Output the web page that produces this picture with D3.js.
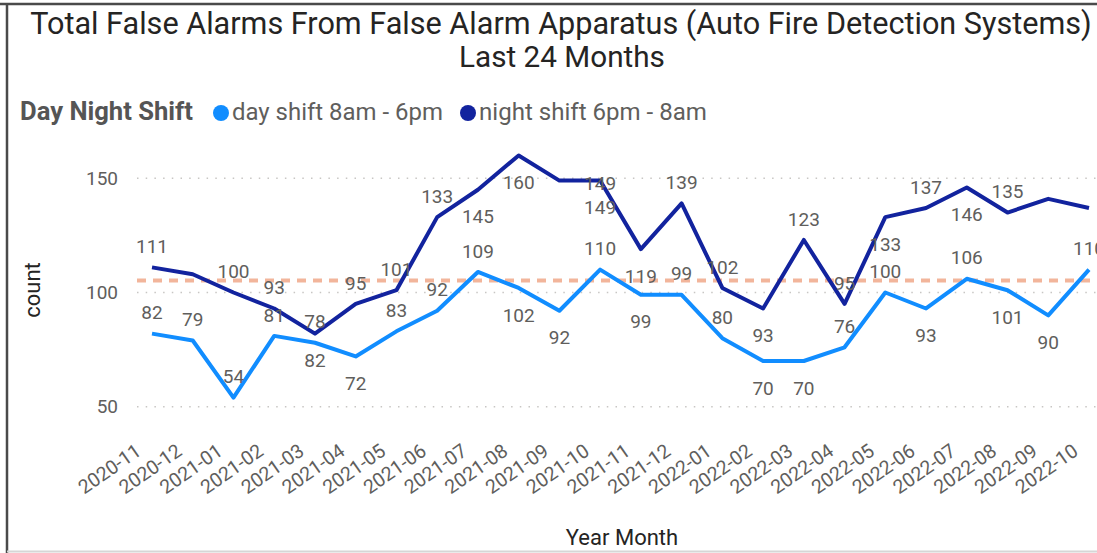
<!DOCTYPE html>
<html>
<head>
<meta charset="utf-8">
<script src="https://cdn.jsdelivr.net/npm/d3@7/dist/d3.min.js"></script>
<style>
  body { margin: 0; background: #fff; }
  svg { display: block; font-family: Roboto, "DejaVu Sans", sans-serif; }
</style>
</head>
<body>
<div id="chart"></div>
<script>
// data
var months = ["2020-11", "2020-12", "2021-01", "2021-02", "2021-03", "2021-04",
  "2021-05", "2021-06", "2021-07", "2021-08", "2021-09", "2021-10",
  "2021-11", "2021-12", "2022-01", "2022-02", "2022-03", "2022-04",
  "2022-05", "2022-06", "2022-07", "2022-08", "2022-09", "2022-10"];
var dayShift = [82, 79, 54, 81, 78, 72, 83, 92, 109, 102, 92, 110,
  99, 99, 80, 70, 70, 76, 100, 93, 106, 101, 90, 110];
var nightShift = [111, 108, 100, 93, 82, 95, 101, 133, 145, 160, 149, 149,
  119, 139, 102, 93, 123, 95, 133, 137, 146, 135, 141, 137];
var yTicks = [50, 100, 150];
var seriesNames = ["day shift 8am - 6pm", "night shift 6pm - 8am"];

// where Power BI put each data label (a = above, b = below, c = on point, n = hidden)
var dayPlace = ["a", "a", "a", "a", "a", "b", "a", "a", "a", "b", "b", "a",
  "b", "a", "a", "b", "b", "a", "a", "b", "a", "b", "b", "a"];
var nightPlace = ["a", "n", "a", "a", "b", "a", "a", "a", "b", "b", "n", "cb",
  "b", "a", "a", "b", "a", "a", "b", "a", "b", "a", "n", "n"];

var W = 1097, H = 553;
var dayColor = "#118DFF", nightColor = "#12239E";

var svg = d3.select("#chart").append("svg")
  .attr("width", W)
  .attr("height", H);

// frame
svg.append("line").attr("x1", 0).attr("x2", W).attr("y1", 4).attr("y2", 4)
  .attr("stroke", "#4a4a4a").attr("stroke-width", 2.5);
svg.append("line").attr("x1", 7).attr("x2", 7).attr("y1", 3).attr("y2", H)
  .attr("stroke", "#4a4a4a").attr("stroke-width", 2.5);
svg.append("line").attr("x1", 7).attr("x2", W).attr("y1", 551.5).attr("y2", 551.5)
  .attr("stroke", "#d6d6d6").attr("stroke-width", 2);

function fit(sel, w) {
  var size = parseFloat(sel.style("font-size"));
  var len = sel.node().getComputedTextLength();
  sel.style("font-size", (size * w / len) + "px");
}

// title
var t1 = svg.append("text").attr("x", 561).attr("y", 34)
  .attr("text-anchor", "middle").attr("fill", "#252423")
  .style("font-size", "27px")
  .text("Total False Alarms From False Alarm Apparatus (Auto Fire Detection Systems)");
fit(t1, 1062);
var t2 = svg.append("text").attr("x", 562).attr("y", 67)
  .attr("text-anchor", "middle").attr("fill", "#252423")
  .style("font-size", "27px")
  .text("Last 24 Months");
fit(t2, 206);

// legend
var lt = svg.append("text").attr("x", 20).attr("y", 120)
  .attr("fill", "#555").style("font-weight", "bold").style("font-size", "20px")
  .text("Day Night Shift");
fit(lt, 173);
var legendX = [221, 468], legendW = [211, 228];
[dayColor, nightColor].forEach(function(c, i) {
  svg.append("circle").attr("cx", legendX[i]).attr("cy", 113).attr("r", 8).attr("fill", c);
  var tx = svg.append("text").attr("x", legendX[i] + 11).attr("y", 120)
    .attr("fill", "#605E5C").style("font-size", "20px")
    .text(seriesNames[i]);
  fit(tx, legendW[i]);
});

// scales
var x = d3.scalePoint().domain(months).range([152, 1089]);
var y = d3.scaleLinear().domain([50, 150]).range([406.7, 178.3]);

// gridlines
svg.append("g").selectAll("line").data(yTicks).join("line")
  .attr("x1", 137).attr("x2", W)
  .attr("y1", function(d) { return y(d); })
  .attr("y2", function(d) { return y(d); })
  .attr("stroke", "#c8c6c4").attr("stroke-width", 1.5)
  .attr("stroke-dasharray", "1.5,7.2");

// y axis
var yAxis = svg.append("g")
  .attr("transform", "translate(118,0)")
  .call(d3.axisLeft(y).tickValues(yTicks).tickSize(0).tickPadding(0));
yAxis.select(".domain").remove();
yAxis.selectAll("text").attr("fill", "#605E5C")
  .style("font-size", "19px").style("font-family", "Roboto, sans-serif");

// x axis
var xAxis = svg.append("g")
  .attr("transform", "translate(0,454)")
  .call(d3.axisBottom(x).tickSize(0).tickPadding(0));
xAxis.select(".domain").remove();
xAxis.selectAll("text")
  .attr("fill", "#605E5C")
  .style("font-size", "19.5px").style("font-family", "Roboto, sans-serif")
  .attr("text-anchor", "end")
  .attr("dy", 0)
  .attr("transform", "translate(-10,0) rotate(-35)");

// axis titles
svg.append("text")
  .attr("transform", "translate(40,290) rotate(-90)")
  .attr("text-anchor", "middle").attr("fill", "#252423")
  .style("font-size", "22px").text("count");
svg.append("text").attr("x", 622).attr("y", 545)
  .attr("text-anchor", "middle").attr("fill", "#252423")
  .style("font-size", "22px").text("Year Month");

// average line over both series
var avg = d3.mean(dayShift.concat(nightShift));
svg.append("line")
  .attr("x1", 137).attr("x2", W)
  .attr("y1", y(avg)).attr("y2", y(avg))
  .attr("stroke", "#E66C37").attr("stroke-opacity", 0.5)
  .attr("stroke-width", 4).attr("stroke-dasharray", "9,7");

var line = d3.line()
  .x(function(d, i) { return x(months[i]); })
  .y(function(d) { return y(d); });

svg.append("path").datum(dayShift)
  .attr("fill", "none").attr("stroke", dayColor)
  .attr("stroke-width", 4).attr("stroke-linejoin", "round")
  .attr("d", line);
svg.append("path").datum(nightShift)
  .attr("fill", "none").attr("stroke", nightColor)
  .attr("stroke-width", 4).attr("stroke-linejoin", "round")
  .attr("d", line);

// data labels
var offsets = {a: -21, b: 27, c: 3};
function labels(values, place) {
  var items = [];
  values.forEach(function(v, i) {
    place[i].split("").forEach(function(p) {
      if (p !== "n") items.push({v: v, i: i, p: p});
    });
  });
  svg.append("g").selectAll("text").data(items).join("text")
    .attr("x", function(d) { return x(months[d.i]); })
    .attr("y", function(d) { return y(d.v) + offsets[d.p]; })
    .attr("dy", "0.35em")
    .attr("text-anchor", "middle")
    .attr("fill", "#605E5C")
    .style("font-size", "19px")
    .text(function(d) { return d.v; });
}
labels(dayShift, dayPlace);
labels(nightShift, nightPlace);
</script>
</body>
</html>
